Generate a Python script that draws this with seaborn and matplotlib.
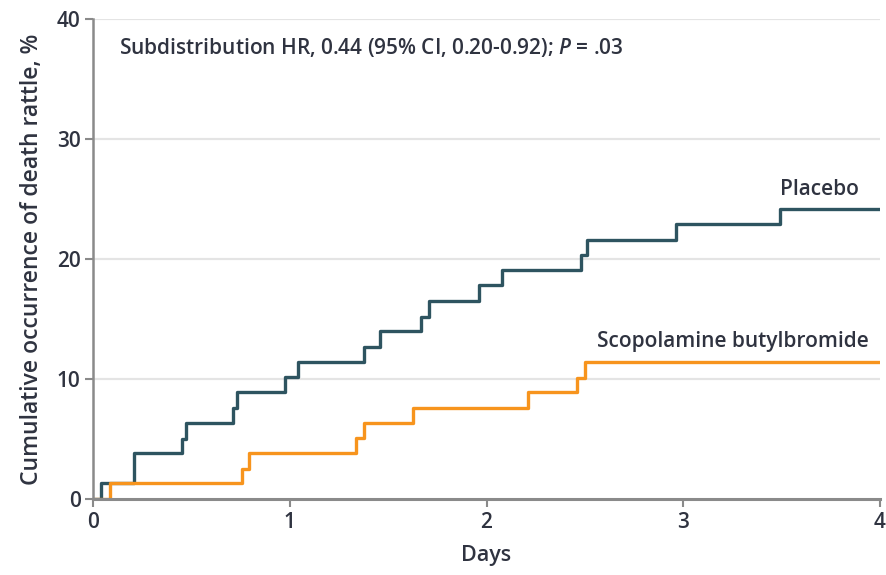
import matplotlib
matplotlib.use("Agg")
import matplotlib.pyplot as plt
import seaborn as sns
import pandas as pd

# Cumulative incidence step curves (days, %)
placebo_days = [0, 0.04, 0.21, 0.45, 0.47, 0.71, 0.73, 0.975, 1.04, 1.375, 1.46,
                1.665, 1.71, 1.96, 2.08, 2.48, 2.51, 2.965, 3.49, 4.0]
placebo_pct = [0, 1.3, 3.8, 5.0, 6.3, 7.6, 8.9, 10.2, 11.4, 12.7, 14.0,
               15.2, 16.5, 17.8, 19.1, 20.3, 21.6, 22.9, 24.2, 24.2]

scopo_days = [0, 0.085, 0.755, 0.79, 1.335, 1.375, 1.625, 2.21, 2.46, 2.50, 4.0]
scopo_pct = [0, 1.3, 2.5, 3.8, 5.1, 6.3, 7.6, 8.9, 10.1, 11.4, 11.4]

x_ticks = [0, 1, 2, 3, 4]
y_ticks = [0, 10, 20, 30, 40]

placebo_color = "#2e5460"
scopo_color = "#f7941d"
axis_gray = "#8a8a8a"
text_color = "#2f3340"

sns.set_theme(style="white")
FONT = ["Open Sans", "DejaVu Sans"]
plt.rcParams["font.family"] = FONT
plt.rcParams["mathtext.fontset"] = "custom"
plt.rcParams["mathtext.it"] = "Open Sans:italic:semibold"
plt.rcParams["mathtext.rm"] = "Open Sans:semibold"

fig = plt.figure(figsize=(8.87, 5.75), dpi=100)
ax = fig.add_axes([0.105, 0.132, 0.887, 0.835])

df_p = pd.DataFrame({"Days": placebo_days, "pct": placebo_pct})
df_s = pd.DataFrame({"Days": scopo_days, "pct": scopo_pct})

sns.lineplot(data=df_p, x="Days", y="pct", ax=ax, color=placebo_color,
             linewidth=2.4, drawstyle="steps-post", zorder=3)
sns.lineplot(data=df_s, x="Days", y="pct", ax=ax, color=scopo_color,
             linewidth=2.4, drawstyle="steps-post", zorder=3)

ax.set_xlim(0, 4)
ax.set_ylim(0, 40)
ax.set_xticks(x_ticks)
ax.set_yticks(y_ticks)
ax.set_xticklabels([str(t) for t in x_ticks], fontweight="semibold")
ax.set_yticklabels([str(t) for t in y_ticks], fontweight="semibold")

# horizontal reference lines only
for yv in y_ticks[1:]:
    ax.axhline(yv, color="#e4e4e4", linewidth=1.6, zorder=1)

for side in ("top", "right"):
    ax.spines[side].set_visible(False)
ax.spines["left"].set_color(axis_gray)
ax.spines["left"].set_linewidth(1.8)
ax.spines["bottom"].set_color(axis_gray)
ax.spines["bottom"].set_linewidth(2.2)
ax.spines["left"].set_zorder(4)
ax.spines["bottom"].set_zorder(4)

ax.tick_params(axis="both", which="major", direction="out", length=6,
               width=1.5, color=axis_gray, labelsize=15, labelcolor=text_color,
               bottom=True, left=True, pad=3)

ax.set_xlabel("Days", fontsize=15.5, color=text_color, labelpad=9,
              fontweight="semibold")
ax.set_ylabel("Cumulative occurrence of death rattle, %", fontsize=16.5,
              color=text_color, labelpad=9, fontweight="semibold")

ax.text(0.13, 37.6,
        "Subdistribution HR, 0.44 (95% CI, 0.20-0.92); $\\mathit{P}$ = .03",
        fontsize=15, color=text_color, va="center", ha="left",
        fontweight="semibold")
ax.text(3.49, 25.8, "Placebo", fontsize=15, color=text_color,
        va="center", ha="left", fontweight="semibold")
ax.text(2.56, 13.1, "Scopolamine butylbromide", fontsize=15,
        color=text_color, va="center", ha="left", fontweight="semibold")

fig.savefig("out.png", dpi=100, facecolor="white")
